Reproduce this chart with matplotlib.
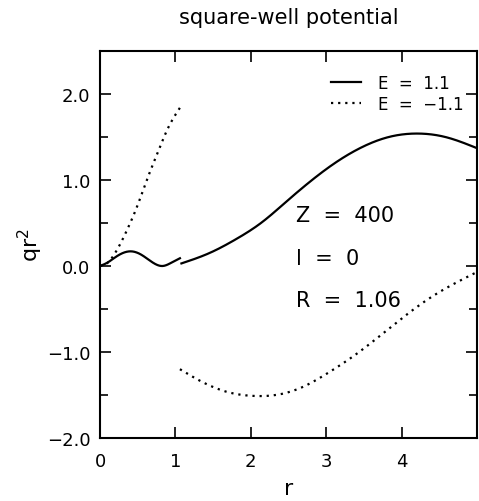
import numpy as np
import matplotlib
matplotlib.use("Agg")
import matplotlib.pyplot as plt
from matplotlib.ticker import MultipleLocator

# E = 1.1 (solid), inside and outside the well
r_pos_in = [0.0, 0.1, 0.2, 0.3, 0.42, 0.55, 0.7, 0.83, 0.95, 1.06]
q_pos_in = [0.0, 0.04, 0.10, 0.15, 0.17, 0.13, 0.04, 0.0, 0.04, 0.09]
r_pos_out = [1.08, 1.45, 1.8, 2.15, 2.46, 2.77, 3.12, 3.47, 3.83, 4.22, 4.58, 5.0]
q_pos_out = [0.03, 0.15, 0.31, 0.51, 0.74, 0.97, 1.20, 1.38, 1.50, 1.54, 1.50, 1.37]

# E = -1.1 (dotted)
r_neg_in = [0.0, 0.09, 0.2, 0.37, 0.5, 0.63, 0.77, 0.9, 1.06]
q_neg_in = [0.0, 0.03, 0.15, 0.44, 0.71, 1.02, 1.33, 1.60, 1.84]
r_neg_out = [1.06, 1.36, 1.71, 2.02, 2.33, 2.68, 3.03, 3.39, 3.73, 4.09, 4.45, 4.71, 5.0]
q_neg_out = [-1.20, -1.35, -1.47, -1.51, -1.50, -1.41, -1.24, -1.03, -0.80, -0.55, -0.33, -0.20, -0.07]

legend_labels = ["E  =  1.1", "E  =  \u22121.1"]
info_lines = ["Z  =  400", "l  =  0", "R  =  1.06"]
info_y = [0.59, 0.09, -0.40]
x_ticks = [0, 1, 2, 3, 4]
y_ticks = [-2.0, -1.0, 0.0, 1.0, 2.0]
y_ticklabels = ["\u22122.0", "\u22121.0", "0.0", "1.0", "2.0"]


def smooth(x, y, n=300):
    x = np.asarray(x, float)
    y = np.asarray(y, float)
    xs = np.linspace(x[0], x[-1], n)
    h = np.diff(x)
    nn = len(x)
    A = np.zeros((nn, nn))
    b = np.zeros(nn)
    A[0, 0] = 1
    A[-1, -1] = 1
    for i in range(1, nn - 1):
        A[i, i - 1] = h[i - 1]
        A[i, i] = 2 * (h[i - 1] + h[i])
        A[i, i + 1] = h[i]
        b[i] = 3 * ((y[i + 1] - y[i]) / h[i] - (y[i] - y[i - 1]) / h[i - 1])
    c = np.linalg.solve(A, b)
    ys = np.empty_like(xs)
    for k, xv in enumerate(xs):
        i = min(max(np.searchsorted(x, xv, side="right") - 1, 0), nn - 2)
        dx = xv - x[i]
        bi = (y[i + 1] - y[i]) / h[i] - h[i] * (2 * c[i] + c[i + 1]) / 3
        di = (c[i + 1] - c[i]) / (3 * h[i])
        ys[k] = y[i] + bi * dx + c[i] * dx ** 2 + di * dx ** 3
    return xs, ys


fig = plt.figure(figsize=(4.79, 5.02), dpi=100)
ax = fig.add_axes([100 / 479, 1 - 439 / 502, 377 / 479, (439 - 52) / 502])

lw = 1.6
x, y = smooth(r_pos_in, q_pos_in)
ax.plot(x, y, color="black", lw=lw)
x, y = smooth(r_pos_out, q_pos_out)
(l1,) = ax.plot(x, y, color="black", lw=lw)
dot = (0, (1, 2.2))
x, y = smooth(r_neg_in, q_neg_in)
ax.plot(x, y, color="black", lw=lw, linestyle=dot)
x, y = smooth(r_neg_out, q_neg_out)
(l2,) = ax.plot(x, y, color="black", lw=lw, linestyle=dot)

ax.set_xlim(0, 5)
ax.set_ylim(-2.0, 2.5)
ax.set_xticks(x_ticks)
ax.set_xticklabels([str(t) for t in x_ticks])
ax.set_yticks(y_ticks)
ax.set_yticklabels(y_ticklabels)
ax.yaxis.set_minor_locator(MultipleLocator(0.5))
ax.tick_params(which="both", direction="in", top=True, right=True, labelsize=13, width=1.2)
ax.tick_params(which="major", length=8)
ax.tick_params(axis="x", which="major", pad=10)
ax.tick_params(axis="y", which="major", pad=7)
ax.tick_params(which="minor", length=6)
for s in ax.spines.values():
    s.set_linewidth(1.5)

ax.set_xlabel("r", fontsize=16, labelpad=6)
ax.set_ylabel("qr$^2$", fontsize=16, labelpad=1)
fig.text(289 / 479, 1 - 18 / 502, "square-well potential", ha="center", va="center", fontsize=15)

ax.legend([l1, l2], legend_labels, loc="upper right", frameon=False, fontsize=12,
          handlelength=1.8, handletextpad=1.0, labelspacing=0.15,
          bbox_to_anchor=(1.0, 0.975), borderaxespad=0.4)

for txt, yv in zip(info_lines, info_y):
    ax.text(2.60, yv, txt, fontsize=15, ha="left", va="center")

fig.savefig("out.png", dpi=100)
